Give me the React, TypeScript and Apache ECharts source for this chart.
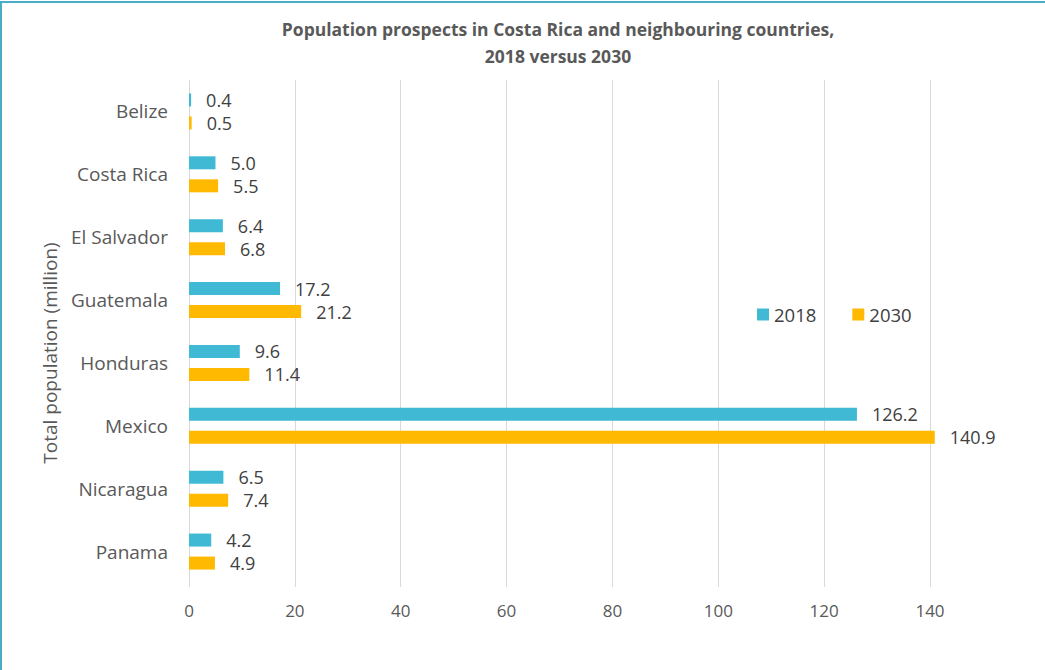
import React, { useEffect, useRef } from "react";
import * as echarts from "echarts";

const categories = ["Belize", "Costa Rica", "El Salvador", "Guatemala", "Honduras", "Mexico", "Nicaragua", "Panama"];
const values2018 = [0.4, 5.0, 6.4, 17.2, 9.6, 126.2, 6.5, 4.2];
const values2030 = [0.5, 5.5, 6.8, 21.2, 11.4, 140.9, 7.4, 4.9];
const xTicks = { min: 0, max: 140, interval: 20 };
const axisTitle = "Total population (million)";

export default function App() {
  const ref = useRef<HTMLDivElement>(null);
  useEffect(() => {
    if (!ref.current) return;
    const chart = echarts.init(ref.current, undefined, { renderer: "svg" });
    const labelStyle = {
      show: true,
      position: "right",
      distance: 15,
      fontFamily: "Open Sans",
      fontSize: 18,
      color: "#404040",
      formatter: (p: any) => Number(p.value).toFixed(1),
    };
    chart.setOption({
      animation: false,
      backgroundColor: "#ffffff",
      title: {
        text: "Population prospects in Costa Rica and neighbouring countries,\n2018 versus 2030",
        left: 553,
        textAlign: "center",
        top: 10,
        textStyle: {
          fontFamily: "Open Sans",
          fontWeight: "bold",
          fontSize: 17.5,
          lineHeight: 27,
          color: "#595959",
        },
      },
      legend: {
        left: 757,
        top: 305,
        padding: 0,
        itemWidth: 12,
        itemHeight: 12,
        itemGap: 36,
        icon: "rect",
        textStyle: { fontFamily: "Open Sans", fontSize: 18.5, color: "#404040" },
        data: ["2018", "2030"],
      },
      grid: { left: 189, right: 115, top: 80, bottom: 87, containLabel: false },
      xAxis: {
        type: "value",
        min: xTicks.min,
        max: xTicks.max,
        interval: xTicks.interval,
        axisLine: { show: false },
        axisTick: { show: true, length: 4, lineStyle: { color: "#d9d9d9" } },
        splitLine: { show: true, lineStyle: { color: "#d9d9d9", width: 1 } },
        axisLabel: { margin: 19, fontFamily: "Open Sans", fontSize: 17, color: "#595959" },
      },
      yAxis: {
        type: "category",
        data: categories,
        inverse: true,
        axisLine: { show: true, lineStyle: { color: "#d9d9d9" } },
        axisTick: { show: false },
        axisLabel: { margin: 21, fontFamily: "Open Sans", fontSize: 19, color: "#595959" },
      },
      series: [
        {
          name: "2018",
          type: "bar",
          data: values2018,
          barWidth: 13,
          barGap: "77%",
          clip: false,
          itemStyle: { color: "#40BAD4" },
          label: labelStyle,
        },
        {
          name: "2030",
          type: "bar",
          data: values2030,
          barWidth: 13,
          barGap: "77%",
          clip: false,
          itemStyle: { color: "#FFB900" },
          label: labelStyle,
        },
      ],
      graphic: [
        { type: "line", shape: { x1: 0, y1: 2, x2: 1045, y2: 2 }, style: { stroke: "#4BACC6", lineWidth: 2 } },
        { type: "line", shape: { x1: 1, y1: 2, x2: 1, y2: 670 }, style: { stroke: "#4BACC6", lineWidth: 2 } },
        {
          type: "text",
          x: 50,
          y: 353,
          rotation: Math.PI / 2,
          style: {
            text: axisTitle,
            fontFamily: "Open Sans",
            fontSize: 19,
            fill: "#595959",
            textAlign: "center",
            textVerticalAlign: "middle",
          },
        },
      ],
    });
    return () => chart.dispose();
  }, []);
  return (
    <div style={{ position: "absolute", left: 0, top: 0, width: 1045, height: 670 }}>
      <div ref={ref} style={{ width: 1045, height: 670 }} />
    </div>
  );
}
